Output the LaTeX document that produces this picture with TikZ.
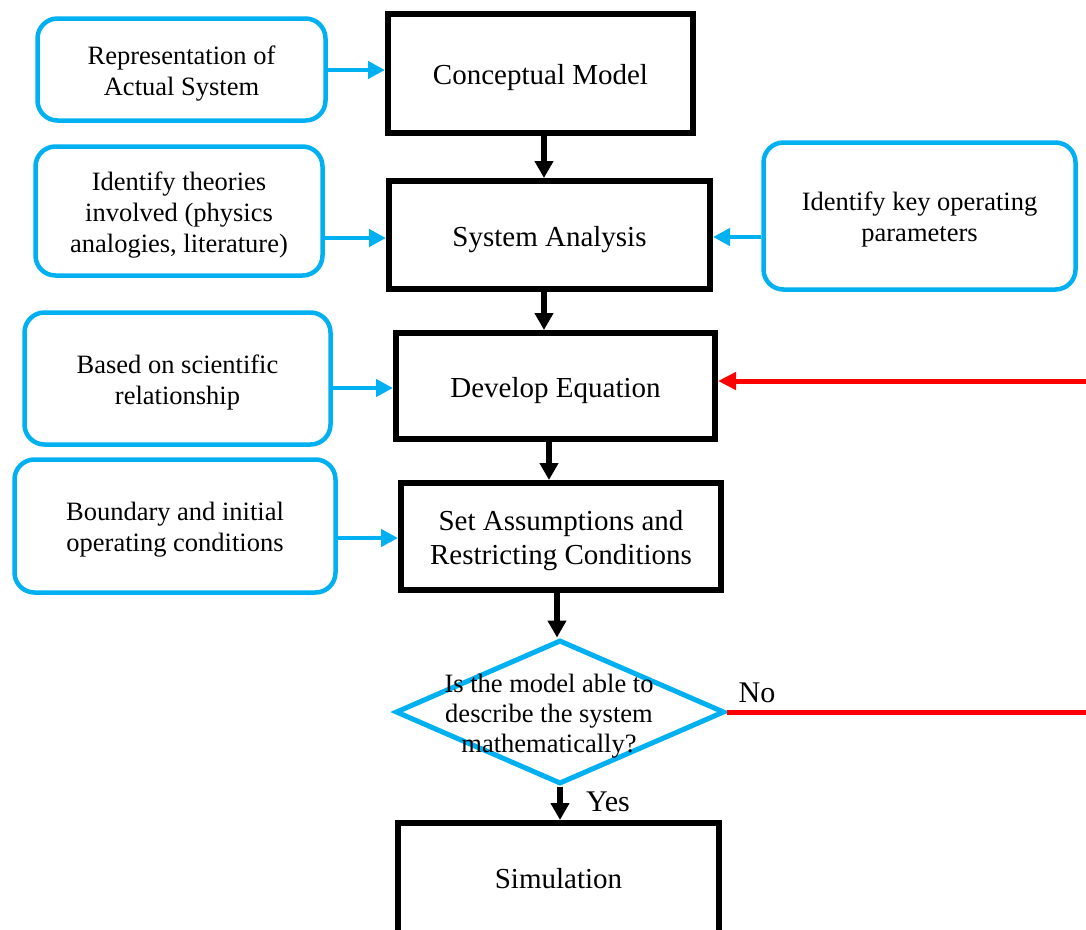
\documentclass[tikz,border=0pt]{standalone}
\usepackage{fontspec}
\setmainfont{Liberation Serif}
\usetikzlibrary{arrows.meta,shapes.geometric}
\definecolor{cyanb}{RGB}{0,176,240}
\definecolor{redl}{RGB}{255,0,0}
\newcommand{\txlift}{\rule{0pt}{0.98em}}
\begin{document}
\begin{tikzpicture}[x=1pt,y=-1pt,
  mainbox/.style={draw=black, line width=6pt, rectangle, inner sep=0pt, font=\fontsize{29}{34}\selectfont, align=center},
  sidebox/.style={draw=cyanb, line width=4.5pt, rounded corners=20pt, inner sep=0pt, font=\fontsize{26.5}{31}\selectfont, align=center},
  blk/.style={line width=6pt, -{Triangle[width=18pt,length=17pt]}},
  barrow/.style={draw=cyanb, line width=4.5pt, -{Triangle[width=17pt,length=17pt]}},
  rarrow/.style={draw=redl, line width=5pt, -{Triangle[width=17pt,length=18pt]}},
  qtext/.style={font=\fontsize{26.5}{30}\selectfont, align=center, inner sep=0pt},
  lbl/.style={font=\fontsize{30}{34}\selectfont, inner sep=0pt}
]
\useasboundingbox (0,0) rectangle (1086,929);
\clip (0,0) rectangle (1086,929);

% main boxes
\node[mainbox, minimum width=305pt, minimum height=119pt] (cm) at (540.5,73.5) {\txlift Conceptual Model};
\node[mainbox, minimum width=321pt, minimum height=108pt] (sa) at (549.5,235) {\txlift System Analysis};
\node[mainbox, minimum width=319pt, minimum height=106pt] (de) at (555.5,386) {\txlift Develop Equation};
\node[mainbox, minimum width=320pt, minimum height=107pt] (sc) at (561,536.5) {\txlift Set Assumptions and\\Restricting Conditions};
\node[mainbox, minimum width=321pt, minimum height=112pt] (sim) at (558.5,879) {Simulation};

% side boxes
\node[sidebox, minimum width=288pt, minimum height=102pt] (b1) at (181.5,69.5) {\txlift Representation of\\Actual System};
\node[sidebox, minimum width=287pt, minimum height=129pt] (b2) at (179,211) {\txlift Identify theories\\involved (physics\\analogies, literature)};
\node[sidebox, minimum width=312pt, minimum height=147pt] (b5) at (919.5,216) {\txlift Identify key operating\\parameters};
\node[sidebox, minimum width=306pt, minimum height=132pt] (b3) at (177.5,378.5) {\txlift Based on scientific\\relationship};
\node[sidebox, minimum width=321pt, minimum height=133pt] (b4) at (175,526) {\txlift Boundary and initial\\operating conditions};

% decision
\node[draw=cyanb, line width=5pt, diamond, minimum width=329pt, minimum height=144pt, inner sep=0pt] (dia) at (560,712) {};
\node[qtext] (dq) at (549,716.5) {Is the model able to\\describe the system\\mathematically?};
\node[lbl] (no) at (757,693) {No};
\node[lbl] (yes) at (608,802) {Yes};

% helper coordinates
\coordinate (yA) at (0,70);
\coordinate (yB) at (0,238);
\coordinate (yC) at (0,237);
\coordinate (yD) at (0,388);
\coordinate (yE) at (0,538);
\coordinate (xA) at (544,0);
\coordinate (xB) at (544,0);
\coordinate (xC) at (549,0);
\coordinate (xD) at (557,0);
\coordinate (rA) at (1086,381);
\coordinate (rB) at (1086,712);

% blue arrows
\draw[barrow] (b1.east |- yA) -- (cm.west |- yA);
\draw[barrow] (b2.east |- yB) -- (sa.west |- yB);
\draw[barrow] (b5.west |- yC) -- (sa.east |- yC);
\draw[barrow] (b3.east |- yD) -- (de.west |- yD);
\draw[barrow] (b4.east |- yE) -- (sc.west |- yE);

% black arrows
\draw[blk] (cm.south -| xA) -- (sa.north -| xA);
\draw[blk] (sa.south -| xB) -- (de.north -| xB);
\draw[blk] (de.south -| xC) -- (sc.north -| xC);
\draw[blk] (sc.south -| xD) -- (dia.north -| xD);
\draw[blk] (dia.south) -- (sim.north -| dia.south);

% red feedback
\draw[rarrow] (rA) -- (de.east |- rA);
\draw[draw=redl, line width=5pt] (dia.east) -- (rB);
\end{tikzpicture}
\end{document}
